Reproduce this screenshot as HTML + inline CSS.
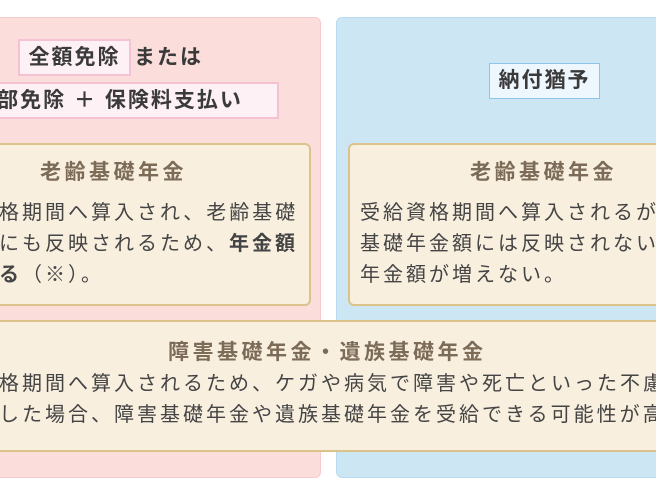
<!DOCTYPE html>
<html><head><meta charset="utf-8"><style>
body{margin:0;width:656px;height:492px;overflow:hidden;background:#fff;position:relative;font-family:"Liberation Sans","Noto Sans CJK JP",sans-serif;color:#444}
#w{position:absolute;left:0;top:0;width:656px;height:492px;overflow:hidden}
#w div{position:absolute;box-sizing:border-box;white-space:nowrap}
.pk{left:-20px;top:17px;width:341px;height:461px;background:#fbdedb;border:1px solid #f6cbc9;border-radius:6px}
.bl{left:336px;top:17px;width:340px;height:461px;background:#cde6f3;border:1px solid #b9daf0;border-radius:6px}
.lab{font-size:21px;font-weight:bold;color:#3a3a3a;line-height:33px;letter-spacing:2px;text-align:center}
.pl{background:#fdf1f6;border:2px solid #f5c1d3}
.bb{background:#eef7fd;border:1px solid #8fc6e8}
.in{background:#f8efdf;border:2px solid #dcc38c;border-radius:6px}
.t{font-size:21px;font-weight:bold;color:#7b6b57;letter-spacing:3.5px;line-height:24px}
.b{font-size:20px;color:#444;line-height:31px;letter-spacing:3px}
</style></head><body><div id="w">
<div class="pk"></div>
<div class="bl"></div>
<div class="lab pl" style="left:18px;top:39px;height:37px;width:113px;">全額免除</div>
<div class="lab" style="left:134px;top:41px;text-align:left">または</div>
<div class="lab pl" style="left:-62px;top:82px;height:37px;width:341px;">一部免除 ＋ 保険料支払い</div>
<div class="lab bb" style="left:489px;top:63px;height:36px;width:111px;">納付猶予</div>
<div class="in" style="left:-20px;top:143px;width:331px;height:163px"></div>
<div class="t" style="left:40px;top:161px">老齢基礎年金</div>
<div class="b" style="left:-1px;top:198px">格期間へ算入され、老齢基礎<br>にも反映されるため、<b>年金額</b><br><b>る</b>（※）。</div>
<div class="in" style="left:348px;top:143px;width:330px;height:163px"></div>
<div class="t" style="left:470px;top:161px">老齢基礎年金</div>
<div class="b" style="left:360px;top:198px">受給資格期間へ算入されるが、老齢<br>基礎年金額には反映されないため、<br>年金額が増えない。</div>
<div class="in" style="left:-20px;top:320px;width:700px;height:132px;border-radius:2px"></div>
<div class="t" style="left:168px;top:341px">障害基礎年金・遺族基礎年金</div>
<div class="b" style="left:-1px;top:369px">格期間へ算入されるため、ケガや病気で障害や死亡といった不慮の<br>した場合、障害基礎年金や遺族基礎年金を受給できる可能性が高くなる。</div>
</div></body></html>
